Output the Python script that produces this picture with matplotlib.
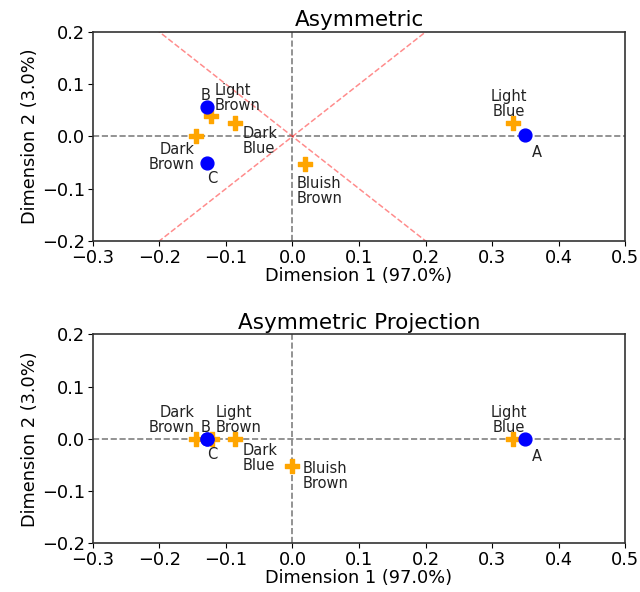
import matplotlib

matplotlib.use("Agg")
import matplotlib.pyplot as plt  # noqa: E402

# row points (blue) and column points (orange)
row_labels = ["A", "B", "C"]
row_x = [0.350, -0.129, -0.129]
row_y = [0.002, 0.057, -0.050]

col_labels = ["Light\nBlue", "Light\nBrown", "Dark\nBlue", "Dark\nBrown", "Bluish\nBrown"]
col_x = [0.332, -0.123, -0.087, -0.145, 0.019]
col_y = [0.025, 0.040, 0.025, 0.000, -0.052]

# projected coordinates for the lower panel
proj_row_x = [0.350, -0.129, -0.129]
proj_row_y = [0.0, 0.0, 0.0]
proj_col_x = [0.332, -0.121, -0.087, -0.145, 0.000]
proj_col_y = [0.0, 0.0, 0.0, 0.0, -0.052]

x_ticks = [-0.3, -0.2, -0.1, 0.0, 0.1, 0.2, 0.3, 0.4, 0.5]
y_ticks = [-0.2, -0.1, 0.0, 0.1, 0.2]
diag = [-0.6, 0.6]

# label offsets (points) and alignment
top_row_off = [((5, -7), "left", "top"), ((-1, 3), "center", "bottom"), ((4, -6), "center", "top")]
top_col_off = [((-3, 3), "center", "bottom"), ((3, 2), "left", "bottom"),
               ((6, -2), "left", "top"), ((-1, -4), "right", "top"), ((-6, -9), "left", "top")]
proj_row_off = [((5, -7), "left", "top"), ((-1, 3), "center", "bottom"), ((4, -6), "center", "top")]
proj_col_off = [((-3, 3), "center", "bottom"), ((3, 3), "left", "bottom"),
                ((6, -3), "left", "top"), ((-1, 3), "right", "bottom"), ((7, 4), "left", "top")]


def panel(ax, rx, ry, cx, cy, roff, coff, title, diagonals):
    ax.axhline(0, color="gray", linestyle="--", linewidth=1.2, zorder=1)
    ax.axvline(0, color="gray", linestyle="--", linewidth=1.2, zorder=1)
    if diagonals:
        ax.plot(diag, diag, color="red", alpha=0.45, linestyle="--", linewidth=1.1, zorder=1)
        ax.plot(diag, [-v for v in diag], color="red", alpha=0.45, linestyle="--",
                linewidth=1.1, zorder=1)
    ax.scatter(cx, cy, marker="P", s=90, color="orange", zorder=3)
    ax.scatter(rx, ry, marker="o", s=85, color="blue", zorder=4)
    for lab, x, y, (off, ha, va) in zip(row_labels, rx, ry, roff):
        ax.annotate(lab, (x, y), xytext=off, textcoords="offset points", ha=ha, va=va,
                    fontsize=10.5, color="#222222", linespacing=1.0)
    for lab, x, y, (off, ha, va) in zip(col_labels, cx, cy, coff):
        ax.annotate(lab, (x, y), xytext=off, textcoords="offset points", ha=ha, va=va,
                    fontsize=10.5, color="#222222", linespacing=1.0)
    ax.set_xlim(-0.3, 0.5)
    ax.set_ylim(-0.2, 0.2)
    ax.set_xticks(x_ticks)
    ax.set_yticks(y_ticks)
    ax.tick_params(labelsize=12.8, pad=2)
    ax.set_xlabel("Dimension 1 (97.0%)", fontsize=12.8, labelpad=0)
    ax.set_ylabel("Dimension 2 (3.0%)", fontsize=12.8, labelpad=2)
    ax.set_title(title, fontsize=15.5, pad=4)
    for sp in ax.spines.values():
        sp.set_color("#333333")
        sp.set_linewidth(1.2)


fig = plt.figure(figsize=(6.4, 5.92), dpi=100)
ax1 = fig.add_axes([0.145, 0.593, 0.832, 0.353])
ax2 = fig.add_axes([0.145, 0.082, 0.832, 0.353])
panel(ax1, row_x, row_y, col_x, col_y, top_row_off, top_col_off, "Asymmetric", True)
panel(ax2, proj_row_x, proj_row_y, proj_col_x, proj_col_y, proj_row_off, proj_col_off,
      "Asymmetric Projection", False)
fig.savefig("out.png", dpi=100)
